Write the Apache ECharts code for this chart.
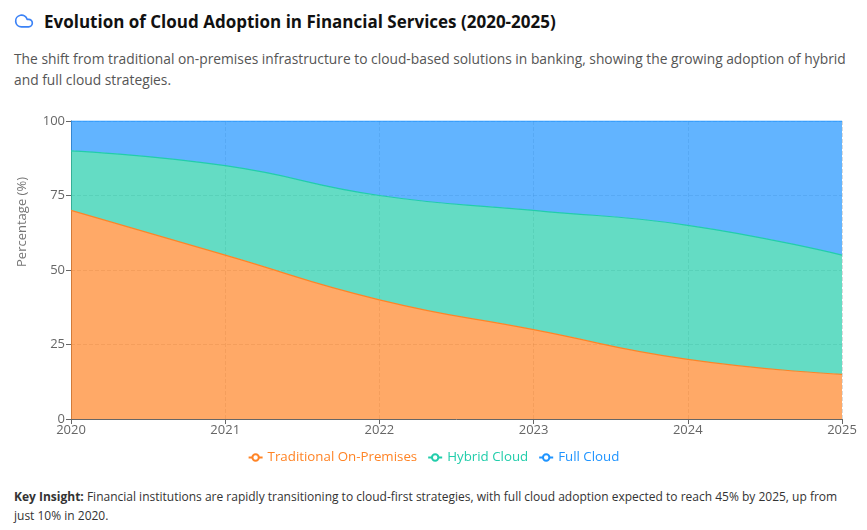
<!DOCTYPE html>
<html>
<head>
<meta charset="utf-8">
<script src="https://cdn.jsdelivr.net/npm/echarts@6/dist/echarts.min.js"></script>
<style>
  html, body { margin: 0; padding: 0; background: #fff; }
  body { width: 867px; height: 530px; position: relative; overflow: hidden; font-family: "Open Sans", "Noto Sans", sans-serif; }
  .title { position: absolute; left: 14px; top: 8px; height: 26px; display: flex; align-items: center; font-size: 17px; font-weight: 700; color: #111; }
  .title svg { margin-right: 10px; }
  .sub { position: absolute; left: 14px; top: 48px; width: 840px; font-size: 13.8px; line-height: 21px; color: #555; }
  #chart { position: absolute; left: 0; top: 100px; width: 867px; height: 375px; }
  .insight { position: absolute; left: 14px; top: 487px; width: 828px; font-size: 12px; line-height: 19px; color: #333; }
</style>
</head>
<body>
<div class="title">
  <svg width="20" height="20" viewBox="0 0 24 24" fill="none" stroke="#3b82f6" stroke-width="2" stroke-linecap="round" stroke-linejoin="round"><path d="M17.5 19H9a7 7 0 1 1 6.71-9h1.79a4.5 4.5 0 1 1 0 9Z"/></svg>
  Evolution of Cloud Adoption in Financial Services (2020-2025)
</div>
<div class="sub">The shift from traditional on-premises infrastructure to cloud-based solutions in banking, showing the growing adoption of hybrid and full cloud strategies.</div>
<div id="chart"></div>
<div class="insight"><b>Key Insight:</b> Financial institutions are rapidly transitioning to cloud-first strategies, with full cloud adoption expected to reach 45% by 2025, up from just 10% in 2020.</div>
<script>
// 数据
var years = ['2020', '2021', '2022', '2023', '2024', '2025'];
var traditional = [70, 55, 40, 30, 20, 15];
var hybrid = [20, 30, 35, 40, 45, 40];
var fullCloud = [10, 15, 25, 30, 35, 45];
var yTicks = [0, 25, 50, 75, 100];

var names = ['Traditional On-Premises', 'Hybrid Cloud', 'Full Cloud'];
var colors = ['#ff8426', '#22cdab', '#1f94ff'];

function mkSeries(name, data, color) {
    return {
        name: name,
        type: 'line',
        stack: 'total',
        smooth: true,
        showSymbol: false,
        symbol: 'emptyCircle',
        data: data,
        lineStyle: { width: 1.2, color: color },
        itemStyle: { color: color },
        areaStyle: { color: color, opacity: 0.7 }
    };
}

var legendData = names.map(function (n, i) {
    return { name: n, textStyle: { color: colors[i] } };
});

var chart = echarts.init(document.getElementById('chart'));
chart.setOption({
    animation: false,
    color: colors,
    grid: { left: 71, right: 25, top: 21, bottom: 56 },
    legend: {
        bottom: 6,
        left: 'center',
        itemWidth: 14,
        itemHeight: 8,
        itemGap: 10,
        textStyle: { fontSize: 13.3, fontFamily: 'Open Sans' },
        data: legendData
    },
    xAxis: {
        type: 'category',
        boundaryGap: false,
        data: years,
        axisLine: { lineStyle: { color: '#666' } },
        axisTick: { show: true, alignWithLabel: true, lineStyle: { color: '#666' } },
        axisLabel: { color: '#666', fontSize: 13, margin: 5, fontFamily: 'Open Sans' },
        splitLine: { show: true, lineStyle: { type: 'dashed', color: 'rgba(150,150,150,0.35)' } }
    },
    yAxis: {
        type: 'value',
        min: yTicks[0],
        max: yTicks[yTicks.length - 1],
        interval: 25,
        axisLine: { show: true, lineStyle: { color: '#666' } },
        axisTick: { show: true, lineStyle: { color: '#666' } },
        axisLabel: { color: '#666', fontSize: 13, margin: 6, fontFamily: 'Open Sans' },
        splitLine: { show: true, lineStyle: { type: 'dashed', color: 'rgba(150,150,150,0.35)' } }
    },
    graphic: [{
        type: 'text',
        x: 22,
        y: 122,
        rotation: Math.PI / 2,
        style: {
            text: 'Percentage (%)',
            fill: '#777',
            fontSize: 13,
            fontFamily: 'Open Sans',
            align: 'center',
            verticalAlign: 'middle'
        }
    }],
    series: [
        mkSeries(names[0], traditional, colors[0]),
        mkSeries(names[1], hybrid, colors[1]),
        mkSeries(names[2], fullCloud, colors[2])
    ]
});
</script>
</body>
</html>
